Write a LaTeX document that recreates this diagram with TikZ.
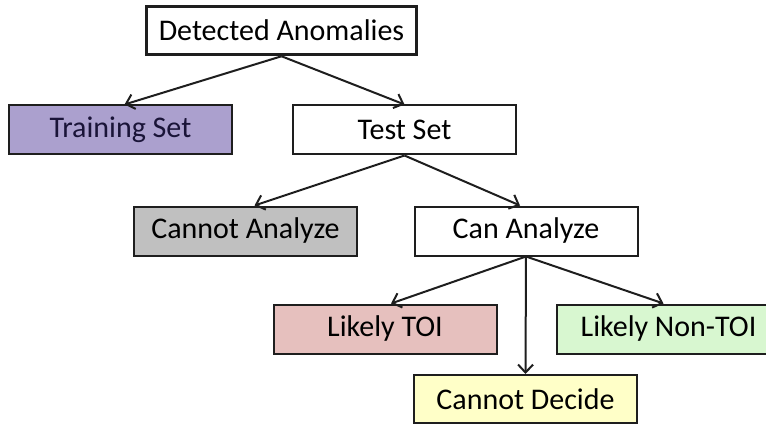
\documentclass[tikz,border=0pt]{standalone}
\usepackage{fontspec}
\setmainfont{Carlito}
\usetikzlibrary{arrows.meta}
\definecolor{trainc}{HTML}{ABA0CE}
\definecolor{cannotc}{HTML}{C0C0C0}
\definecolor{toic}{HTML}{E6C0BE}
\definecolor{nontoic}{HTML}{D8F7D0}
\definecolor{decidec}{HTML}{FFFFC8}
\definecolor{edgec}{HTML}{1E1E1E}
\tikzset{
  box/.style={draw=edgec, line width=2pt, rectangle, minimum width=223pt, minimum height=49pt,
    inner sep=0pt, font=\fontsize{30}{35}\selectfont, text=black},
  topbox/.style={box, line width=3.5pt, minimum width=270pt, minimum height=48pt},
  conn/.style={draw=edgec, line width=2pt, -{Straight Barb[length=8pt,width=15pt,line width=2pt]}}
}
\begin{document}
\begin{tikzpicture}[x=1pt,y=-1pt]
\useasboundingbox (0,0) rectangle (766,425);
\clip (0,0) rectangle (766,425);
\node[topbox] (da) at (281.5,30.5) {Detected Anomalies};
\node[box, fill=trainc] (tr) at (120.5,130) {\textcolor[HTML]{1A1438}{Training Set}};
\node[box, fill=white] (ts) at (404.5,130) {Test Set};
\node[box, fill=cannotc] (na) at (245.5,231) {Cannot Analyze};
\node[box, fill=white] (ca) at (526,231) {Can Analyze};
\node[box, fill=toic] (lt) at (385,329) {Likely TOI};
\node[box, fill=nontoic] (ln) at (668.5,329) {Likely Non-TOI};
\node[box, fill=decidec, minimum height=48pt] (cd) at (525.5,399) {Cannot Decide};
\draw[conn] (da.south) -- ([xshift=4pt]tr.north);
\draw[conn] (da.south) -- (ts.north);
\draw[conn] (ts.south) -- ([xshift=9pt]na.north);
\draw[conn] (ts.south) -- ([xshift=-6pt]ca.north);
\draw[conn] (ca.south) -- ([xshift=6pt]lt.north);
\draw[conn] (ca.south) -- ([xshift=-5pt]ln.north);
\draw[conn] (ca.south) -- (cd.north);
\end{tikzpicture}
\end{document}
